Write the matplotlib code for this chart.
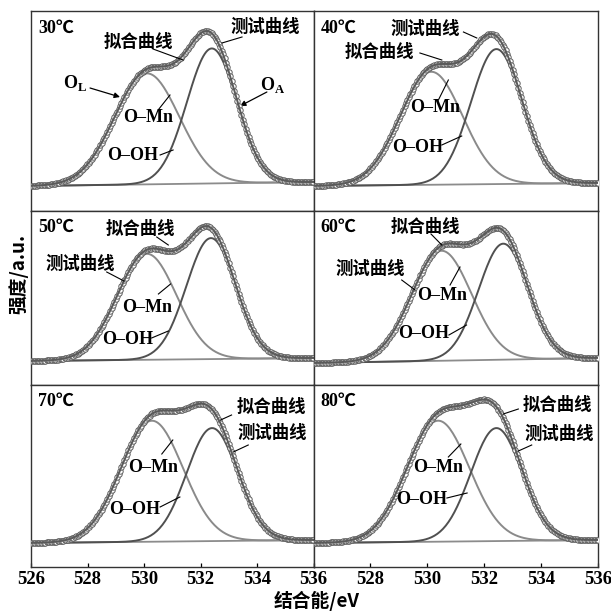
import numpy as np
import matplotlib
matplotlib.use('Agg')
import matplotlib.pyplot as plt

plt.rcParams['font.family'] = ['Liberation Serif', 'Noto Sans CJK SC']
plt.rcParams['mathtext.fontset'] = 'custom'
plt.rcParams['mathtext.rm'] = 'Liberation Serif'
plt.rcParams['mathtext.bf'] = 'Liberation Serif:bold'

# ---------------- data ----------------
temps = ['30℃', '40℃', '50℃', '60℃', '70℃', '80℃']
# O-Mn component (lattice oxygen)
omn_center = [530.10, 530.14, 530.10, 530.50, 530.28, 530.38]
omn_height = [111, 113, 106, 110, 121, 121]
omn_sigma = [1.15, 1.10, 1.05, 1.05, 1.10, 1.10]
# O-OH component (adsorbed oxygen)
ooh_center = [532.40, 532.43, 532.37, 532.67, 532.41, 532.43]
ooh_height = [135, 135, 121, 116, 113, 113]
ooh_sigma = [0.88, 0.90, 0.87, 0.87, 0.90, 0.90]
# linear background at 526 eV and 536 eV
bg_start = [25, 25, 24, 22, 24, 24]
bg_end = [29, 28, 27, 27, 27, 27]

x_ticks = [526, 528, 530, 532, 534, 536]
energy_step = 0.05

# ---------------- annotation layout (data coords) ----------------
fit_lbl = '拟合曲线'
exp_lbl = '测试曲线'
annotations = [
    [(fit_lbl, (529.79, 169), (530.32, 162), (531.38, 151)),
     (exp_lbl, (534.28, 184), (533.47, 174), (532.76, 168)),
     ('O–Mn', (530.14, 94), (530.50, 101), (530.92, 116)),
     ('O–OH', (529.61, 56), (530.57, 56), (531.03, 61))],
    [(exp_lbl, (529.92, 182), (531.27, 179), (531.74, 173)),
     (fit_lbl, (528.30, 159), (529.74, 158), (530.51, 151)),
     ('O–Mn', (530.27, 103), (530.39, 111), (530.74, 131)),
     ('O–OH', (529.65, 64), (530.51, 66), (531.21, 75))],
    [(fit_lbl, (529.88, 156), (530.45, 148), (530.86, 140)),
     (exp_lbl, (527.76, 121), (528.68, 113), (529.29, 104)),
     ('O–Mn', (530.12, 78), (530.51, 91), (530.94, 101)),
     ('O–OH', (529.42, 45), (530.27, 47), (530.86, 54))],
    [(fit_lbl, (529.94, 158), (530.13, 151), (530.51, 140)),
     (exp_lbl, (528.01, 116), (529.10, 105), (529.57, 95)),
     ('O–Mn', (530.53, 90), (530.80, 100), (531.15, 118)),
     ('O–OH', (529.88, 52), (530.76, 50), (531.38, 60))],
    [(fit_lbl, (534.52, 160), (533.10, 152), (532.71, 147)),
     (exp_lbl, (534.54, 134), (533.69, 122), (533.16, 115)),
     ('O–Mn', (530.33, 100), (530.63, 113), (531.02, 127)),
     ('O–OH', (529.68, 57), (530.57, 60), (531.27, 70))],
    [(fit_lbl, (534.57, 162), (533.20, 158), (532.67, 153)),
     (exp_lbl, (534.63, 133), (533.67, 122), (533.20, 116)),
     ('O–Mn', (530.39, 99), (530.74, 110), (531.18, 123)),
     ('O–OH', (529.82, 67), (530.69, 69), (531.40, 74))],
]

# ---------------- figure layout ----------------
W, H = 611, 612
fig = plt.figure(figsize=(W / 100, H / 100), dpi=100)
col_px = [(31, 313.5), (313.5, 598)]
row_px = [(11, 211), (211, 385), (385, 567)]

E = np.arange(x_ticks[0], x_ticks[-1] + energy_step / 2, energy_step)


def gauss(x, c, h, s):
    return h * np.exp(-(x - c) ** 2 / (2 * s ** 2))


cn_font = dict(family=['Noto Sans CJK SC'], fontsize=12.5, fontweight='bold')
en_font = dict(family=['Liberation Serif'], fontsize=13, fontweight='bold')

for i in range(6):
    r, c = divmod(i, 2)
    x0, x1 = col_px[c]
    y0, y1 = row_px[r]
    ax = fig.add_axes([x0 / W, 1 - y1 / H, (x1 - x0) / W, (y1 - y0) / H])
    ax.set_xlim(x_ticks[0], x_ticks[-1])
    ax.set_ylim(0, y1 - y0)

    bg = bg_start[i] + (bg_end[i] - bg_start[i]) * (E - E[0]) / (E[-1] - E[0])
    omn = gauss(E, omn_center[i], omn_height[i], omn_sigma[i])
    ooh = gauss(E, ooh_center[i], ooh_height[i], ooh_sigma[i])
    fit = bg + omn + ooh

    ax.plot(E, bg, color='#8c8c8c', lw=1.3, zorder=2)
    ax.plot(E, bg + omn, color='#8a8a8a', lw=1.4, zorder=3)
    ax.plot(E, bg + ooh, color='#505050', lw=1.4, zorder=3)
    ax.plot(E, fit, ls='none', marker='o', ms=3.9, mfc='white',
            mec='#5e5e5e', mew=0.7, zorder=4)
    ax.plot(E, fit, color='#5a5a5a', lw=1.4, zorder=5)

    ax.text(0.025, 0.955, temps[i], transform=ax.transAxes, ha='left', va='top',
            family=['Liberation Serif', 'Noto Sans CJK SC'], fontsize=13,
            fontweight='bold', zorder=6)

    for txt, pos, p1, p2 in annotations[i]:
        f = cn_font if txt in (fit_lbl, exp_lbl) else en_font
        ax.text(pos[0], pos[1], txt, ha='center', va='center', zorder=6, **f)
        ax.plot([p1[0], p2[0]], [p1[1], p2[1]], color='black', lw=0.8, zorder=6)

    if i == 0:
        ax.text(527.56, 128, r'O$_{\mathbf{L}}$', ha='center', va='center', **en_font)
        ax.annotate('', xy=(529.15, 114), xytext=(528.09, 123),
                    arrowprops=dict(arrowstyle='-|>', color='black', lw=0.9,
                                    mutation_scale=8, shrinkA=0, shrinkB=0))
        ax.text(534.57, 126, r'O$_{\mathbf{A}}$', ha='center', va='center', **en_font)
        ax.annotate('', xy=(533.40, 105), xytext=(534.35, 119),
                    arrowprops=dict(arrowstyle='-|>', color='black', lw=0.9,
                                    mutation_scale=8, shrinkA=0, shrinkB=0))

    ax.set_yticks([])
    for s in ax.spines.values():
        s.set_color('#333333')
        s.set_linewidth(1.0)
    if r == 2:
        ax.set_xticks(x_ticks)
        labels = [str(t) for t in x_ticks]
        if c == 1:
            labels[0] = ''
        ax.set_xticklabels(labels, fontsize=13.5, fontweight='bold')
        ax.tick_params(axis='x', direction='in', length=3, width=0.9, pad=3)
    else:
        ax.set_xticks([])

fig.text(0.519, 0.018, '结合能/eV', ha='center', va='center',
         family=['Noto Sans CJK SC'], fontsize=13.5, fontweight='bold')
fig.text(0.031, 0.552, '强度/a.u.', ha='center', va='center', rotation=90,
         family=['Noto Sans CJK SC'], fontsize=13.5, fontweight='bold')

fig.savefig('out.png', dpi=100, facecolor='white')
